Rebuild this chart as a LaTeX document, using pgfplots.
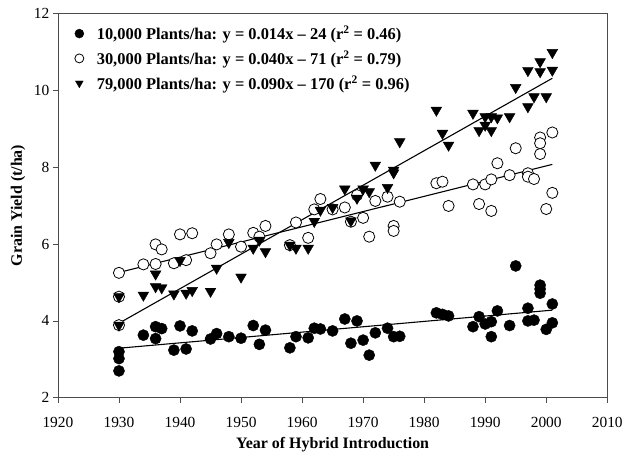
\documentclass[border=0pt]{standalone}
\usepackage{fontspec}
\setmainfont{Liberation Serif}
\usepackage{pgfplots}
\pgfplotsset{compat=1.18}
\begin{document}
\begin{tikzpicture}
\begin{axis}[
  scale only axis, width=550bp, height=385bp,
  xmin=1920, xmax=2010, ymin=2, ymax=12,
  xtick={1920,1930,...,2010}, ytick={2,4,...,12},
  xtick pos=bottom, ytick pos=left, tick align=outside,
  major tick length=5bp,
  /pgf/number format/assume math mode=true,
  /pgf/number format/1000 sep={},
  tick label style={font=\fontsize{15.5}{18}\selectfont},
  xticklabel style={yshift=-11bp},
  xlabel={\textbf{Year of Hybrid Introduction}},
  ylabel={\textbf{Grain Yield (t/ha)}},
  label style={font=\fontsize{16}{19}\selectfont},
  xlabel style={yshift=-3bp},
  ylabel style={yshift=2bp},
  axis line style={black!70, line width=0.8pt},
  tick style={black!70, line width=0.8pt},
  legend style={draw=none, fill=none, at={(0.025,0.978)}, anchor=north west,
    font=\fontsize{16.5}{19}\selectfont\bfseries, row sep=5.5bp, column sep=11bp},
  legend cell align=left,
  legend image post style={mark size=4.5bp},
]
\addplot[only marks, mark=*, mark size=5.6bp, mark options={draw=black, fill=black}] coordinates {
(1930,3.20) (1930,3.02) (1930,2.70) (1934,3.63) (1936,3.85) (1936,3.54) (1937,3.80)
(1939,3.24) (1940,3.87) (1941,3.27) (1942,3.74) (1945,3.53) (1946,3.67) (1948,3.59)
(1950,3.55) (1952,3.88) (1953,3.39) (1954,3.76) (1958,3.30) (1959,3.59) (1961,3.56)
(1962,3.81) (1963,3.79) (1965,3.74) (1967,4.05) (1968,3.42) (1969,4.00) (1970,3.50)
(1971,3.11) (1972,3.69) (1974,3.81) (1975,3.59) (1976,3.60) (1982,4.21) (1983,4.17)
(1984,4.13) (1988,3.85) (1989,4.11) (1990,3.92) (1991,3.98) (1991,3.59) (1992,4.26)
(1994,3.88) (1995,5.43) (1997,4.33) (1997,4.00) (1998,4.02) (1999,4.93) (1999,4.83)
(1999,4.72) (2000,3.78) (2001,4.44) (2001,3.95)
};
\addlegendentry{10,000 Plants/ha: y = 0.014x – 24 (r\textsuperscript{2} = 0.46)}
\addplot[only marks, mark=*, mark size=5.6bp, mark options={draw=black, fill=white, line width=0.8pt}] coordinates {
(1930,5.25) (1930,4.63) (1930,3.89) (1934,5.47) (1936,5.48) (1936,5.99) (1937,5.86)
(1939,5.50) (1940,6.25) (1941,5.58) (1942,6.28) (1945,5.76) (1946,5.99) (1948,6.25)
(1950,5.93) (1952,6.29) (1953,6.19) (1954,6.47) (1958,5.97) (1959,6.56) (1961,6.16)
(1962,6.90) (1963,7.17) (1965,6.90) (1967,6.95) (1968,6.58) (1969,7.27) (1970,6.68)
(1971,6.19) (1972,7.12) (1974,7.23) (1975,6.47) (1975,6.34) (1976,7.10) (1982,7.58)
(1983,7.62) (1984,6.99) (1988,7.55) (1989,7.04) (1990,7.55) (1991,6.86) (1991,7.68)
(1992,8.10) (1994,7.79) (1995,8.49) (1997,7.84) (1997,7.75) (1998,7.69) (1999,8.77)
(1999,8.62) (1999,8.34) (2000,6.91) (2001,8.90) (2001,7.33)
};
\addlegendentry{30,000 Plants/ha: y = 0.040x – 71 (r\textsuperscript{2} = 0.79)}
\addplot[only marks, mark=triangle*, mark size=6.2bp, mark options={draw=black, fill=black, rotate=180}] coordinates {
(1930,4.63) (1930,3.89) (1934,4.67) (1936,5.22) (1936,4.89) (1937,4.86) (1939,4.70)
(1940,5.57) (1941,4.72) (1942,4.79) (1945,4.77) (1946,5.37) (1948,6.04) (1950,5.14)
(1952,5.89) (1953,6.10) (1954,5.80) (1958,5.97) (1959,5.89) (1961,5.89) (1962,6.59)
(1963,6.88) (1965,6.95) (1967,7.43) (1968,6.60) (1969,7.19) (1970,7.43) (1971,7.36)
(1972,8.05) (1974,7.47) (1975,7.92) (1975,7.85) (1976,8.66) (1982,9.48) (1983,8.88)
(1984,8.57) (1988,9.40) (1989,8.95) (1990,9.09) (1990,9.31) (1991,8.95) (1991,9.31)
(1992,9.28) (1994,9.31) (1995,10.07) (1997,9.57) (1997,10.51) (1998,9.83) (1999,10.74)
(1999,10.48) (2000,9.83) (2001,10.98) (2001,10.52)
};
\addlegendentry{79,000 Plants/ha: y = 0.090x – 170 (r\textsuperscript{2} = 0.96)}
\addplot[forget plot, black, line width=1.1pt] coordinates {(1930,3.29) (2001,4.28)};
\addplot[forget plot, black, line width=1.1pt] coordinates {(1930,5.26) (2001,8.07)};
\addplot[forget plot, black, line width=1.1pt] coordinates {(1930,3.94) (2001,10.31)};
\end{axis}
\path ([shift={(-58bp,-55bp)}]current axis.south west) rectangle ([shift={(18bp,13.3bp)}]current axis.north east);
\end{tikzpicture}
\end{document}
